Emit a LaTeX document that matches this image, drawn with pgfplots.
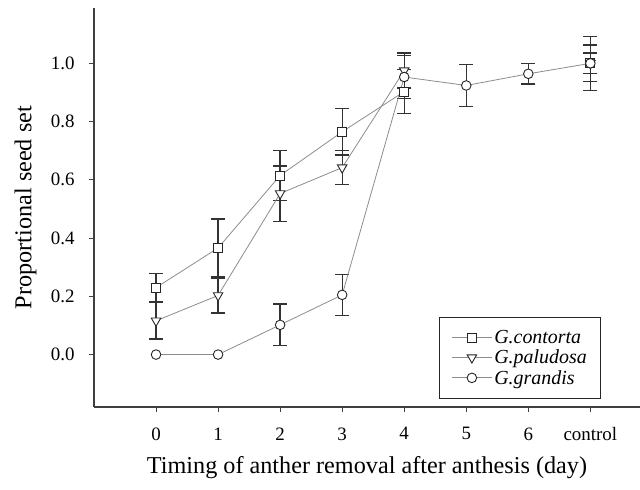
\documentclass[border=0pt]{standalone}
\usepackage{fontspec}
\setmainfont{Liberation Serif}
\usepackage{pgfplots}
\pgfplotsset{compat=1.18}
\usepackage{pgfplotstable}

% x: 0..6 days, 7 = control; nan row breaks the line before control
\pgfplotstableread{
x y e
0 0.230 0.048
1 0.366 0.100
2 0.615 0.085
3 0.765 0.080
4 0.903 0.076
5 nan 0
7 1.000 0.093
}\contorta
\pgfplotstableread{
x y e
0 0.116 0.062
1 0.203 0.060
2 0.553 0.095
3 0.642 0.058
4 0.975 0.060
5 nan 0
7 1.000 0.063
}\paludosa
\pgfplotstableread{
x y e
0 0.000 0
1 0.000 0
2 0.102 0.072
3 0.205 0.070
4 0.953 0.073
5 0.924 0.072
6 0.964 0.035
7 1.000 0.035
}\grandis
\pgfplotstableread{
x y e
2 0.102 0.072
3 0.205 0.070
4 0.953 0.073
5 0.924 0.072
6 0.964 0.035
7 1.000 0.035
}\grandiserr

\begin{document}
\begin{tikzpicture}
\path[use as bounding box] (-94bp,-83bp) rectangle (546bp,407bp);
\begin{axis}[
    at={(0,0)}, anchor=south west,
    scale only axis,
    width=546bp, height=399bp,
    xmin=-1, xmax=7.8,
    ymin=-0.18, ymax=1.19,
    unbounded coords=jump,
    axis x line*=bottom, axis y line*=left,
    axis line style={black!75, line width=1.2bp},
    tick align=outside,
    major tick length=5bp,
    tick style={black!75, line width=1bp},
    xtick={0,...,7},
    xticklabels={0,1,2,3,4,5,6,control},
    ytick={0,0.2,...,1.0},
    /pgf/number format/.cd, fixed, fixed zerofill, precision=1, assume math mode=true,
    /pgfplots/.cd,
    ticklabel style={font=\fontsize{19}{21}\selectfont},
    xticklabel style={yshift=-12bp},
    yticklabel style={xshift=-11bp},
    xlabel={Timing of anther removal after anthesis (day)},
    ylabel={Proportional seed set},
    label style={font=\fontsize{24.3}{28}\selectfont},
    xlabel style={at={(axis description cs:0.5,0)}, anchor=north, yshift=-46bp},
    ylabel style={at={(axis description cs:0,0.5)}, anchor=south, yshift=54bp},
    clip=false,
    legend style={at={(0.929,0.02)}, anchor=south east, draw=black!85, line width=1bp,
        font=\itshape\fontsize{20}{22}\selectfont, row sep=1bp,
        inner xsep=12bp, inner ysep=11bp},
    legend cell align=left,
    legend image code/.code={
        \draw[mark repeat=2, mark phase=2, #1] plot coordinates {(0bp,0bp) (20bp,0bp) (40bp,0bp)};
    },
    error bars/error bar style={black!80, line width=1.3bp},
    error bars/error mark options={rotate=90, mark size=7bp, black!80, line width=1.3bp},
]
\addplot[black!45, line width=0.8bp, mark=square*, mark size=4.5bp,
    mark options={fill=white, draw=black!85, line width=0.9bp, solid},
    error bars/.cd, y dir=both, y explicit]
    table[x=x, y=y, y error=e] {\contorta};
\addlegendentry{G.contorta}
\addplot[black!45, line width=0.8bp, mark=triangle*, mark size=5.5bp,
    mark options={fill=white, draw=black!85, line width=0.9bp, solid, rotate=180},
    error bars/.cd, y dir=both, y explicit]
    table[x=x, y=y, y error=e] {\paludosa};
\addlegendentry{G.paludosa}
\addplot[draw=none, mark=none, forget plot,
    error bars/.cd, y dir=both, y explicit]
    table[x=x, y=y, y error=e] {\grandiserr};
\addplot[black!45, line width=0.8bp, mark=*, mark size=4.8bp,
    mark options={fill=white, draw=black!85, line width=0.9bp, solid}]
    table[x=x, y=y] {\grandis};
\addlegendentry{G.grandis}
\end{axis}
\end{tikzpicture}
\end{document}
